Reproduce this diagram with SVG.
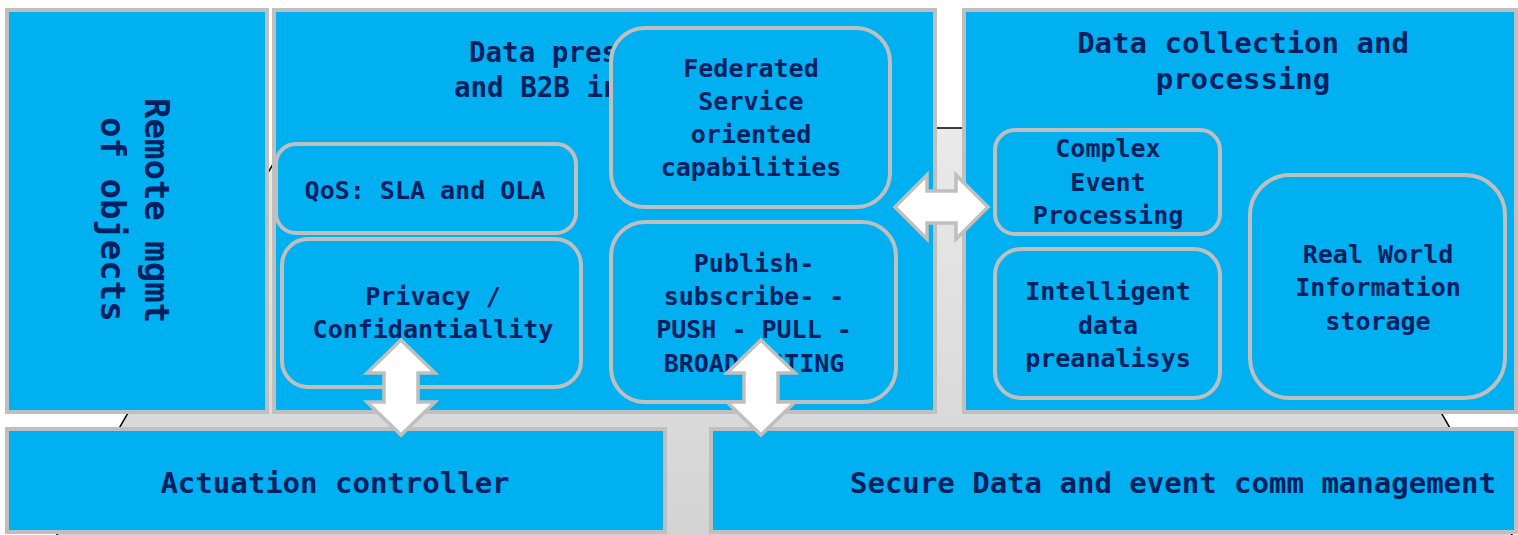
<svg xmlns="http://www.w3.org/2000/svg" width="1518" height="535" viewBox="0 0 1518 535">
<style>
.box{fill:#00B0F0;stroke:#BFBFBF;stroke-width:4}
.t{font-family:"DejaVu Sans Mono","Liberation Mono",monospace;font-weight:bold;fill:#002060}
.big{font-size:29px}
.mid{font-size:27.5px}
.sm{font-size:25px}
.vt{font-size:34px}
.c{text-anchor:middle}
.arr{fill:#FFFFFF;stroke:#BFBFBF;stroke-width:3.5;stroke-linejoin:miter}
</style>
<defs>
<linearGradient id="bg" gradientUnits="userSpaceOnUse" x1="0" y1="128" x2="0" y2="535">
<stop offset="0" stop-color="#EAEAEA"/>
<stop offset="1" stop-color="#D3D3D3"/>
</linearGradient>
</defs>
<rect x="0" y="0" width="1518" height="535" fill="#FFFFFF"/>
<g id="background">
<polygon points="294,128 1276,128 1515,540 54,540" fill="url(#bg)" stroke="#000000" stroke-width="1.5"/>
</g>
<g id="remote-mgmt">
<rect class="box" x="7" y="10" width="260" height="402"/>
<text class="t vt" transform="translate(145,98) rotate(90)">Remote mgmt</text>
<text class="t vt" transform="translate(101,117) rotate(90)">of objects</text>
</g>
<g id="data-presentation">
<rect class="box" x="274" y="10" width="661" height="402"/>
<text class="t mid" x="469" y="62">Data pres</text>
<text class="t mid" x="454" y="97">and B2B in</text>
</g>
<g id="data-collection">
<rect class="box" x="964" y="10" width="552" height="402"/>
<text class="t big c" x="1243" y="53">Data collection and</text>
<text class="t big c" x="1243" y="89">processing</text>
</g>
<g id="actuation-controller">
<rect class="box" x="7" y="429" width="658" height="103"/>
<text class="t big c" x="335" y="493">Actuation controller</text>
</g>
<g id="secure-data">
<rect class="box" x="711" y="429" width="805" height="103"/>
<text class="t big c" x="1173" y="493">Secure Data and event comm management</text>
</g>
<g id="qos">
<rect class="box" x="276" y="144" width="300" height="89" rx="20"/>
<text class="t sm c" x="425" y="199">QoS: SLA and OLA</text>
</g>
<g id="privacy">
<rect class="box" x="282" y="239" width="299" height="148" rx="26"/>
<text class="t sm c" x="433" y="305">Privacy /</text>
<text class="t sm c" x="433" y="338">Confidantiallity</text>
</g>
<g id="federated">
<rect class="box" x="611" y="28" width="279" height="179" rx="34"/>
<text class="t sm c" x="751" y="77">Federated</text>
<text class="t sm c" x="751" y="110">Service</text>
<text class="t sm c" x="751" y="143">oriented</text>
<text class="t sm c" x="751" y="176">capabilities</text>
</g>
<g id="publish-subscribe">
<rect class="box" x="611" y="222" width="285" height="180" rx="34"/>
<text class="t sm c" x="754" y="272">Publish-</text>
<text class="t sm c" x="754" y="305">subscribe- -</text>
<text class="t sm c" x="754" y="338">PUSH - PULL -</text>
<text class="t sm c" x="754" y="372">BROADCASTING</text>
</g>
<g id="complex-event">
<rect class="box" x="995" y="130" width="225" height="104" rx="20"/>
<text class="t sm c" x="1108" y="157">Complex</text>
<text class="t sm c" x="1108" y="191">Event</text>
<text class="t sm c" x="1108" y="224">Processing</text>
</g>
<g id="intelligent-data">
<rect class="box" x="995" y="249" width="225" height="149" rx="26"/>
<text class="t sm c" x="1108" y="300">Intelligent</text>
<text class="t sm c" x="1108" y="334">data</text>
<text class="t sm c" x="1108" y="367">preanalisys</text>
</g>
<g id="real-world-storage">
<rect class="box" x="1250" y="175" width="255" height="223" rx="40"/>
<text class="t sm c" x="1378" y="263">Real World</text>
<text class="t sm c" x="1378" y="296">Information</text>
<text class="t sm c" x="1378" y="330">storage</text>
</g>
<g id="connectors">
<polygon class="arr" points="895,207 927,175 927,191 956,191 956,175 988,207 956,239 956,223 927,223 927,239"/>
<polygon class="arr" points="401,340 435,373 418,373 418,402 435,402 401,435 367,402 384,402 384,373 367,373"/>
<polygon class="arr" points="761,340 795,373 778,373 778,402 795,402 761,435 727,402 744,402 744,373 727,373"/>
</g>
</svg>
